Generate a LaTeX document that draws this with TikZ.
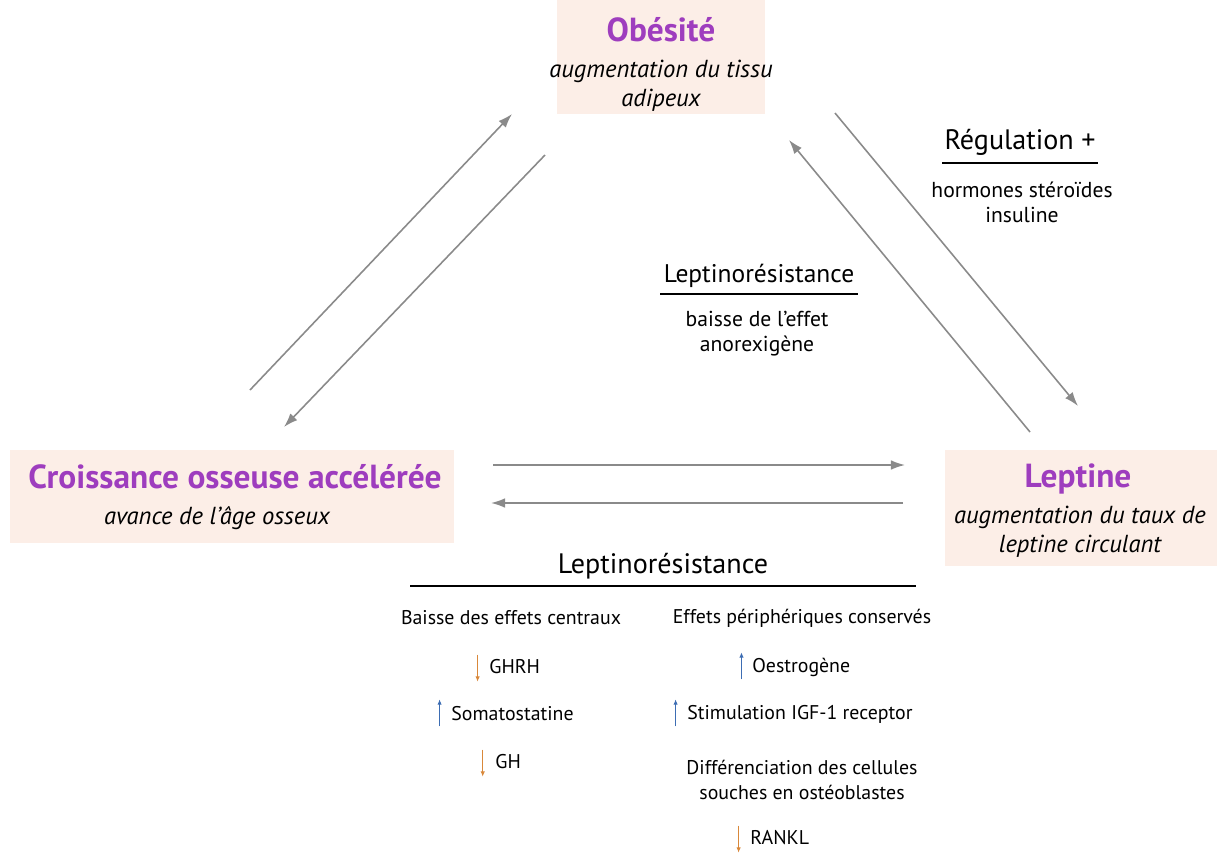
\documentclass[tikz,border=0pt]{standalone}
\usepackage{fontspec}
\setmainfont{PT Sans}
\usetikzlibrary{arrows.meta}
\definecolor{titre}{HTML}{9E3DBE}
\definecolor{fond}{HTML}{FCEEE7}
\definecolor{fleche}{HTML}{8A8A8A}
\definecolor{hausse}{HTML}{3D6DB3}
\definecolor{baisse}{HTML}{D9883A}
\tikzset{
  boite/.style={fill=fond, inner sep=0pt},
  titre/.style={text=titre, font=\fontsize{19}{22}\selectfont\bfseries},
  sous/.style={font=\fontsize{14}{16.4}\selectfont\itshape, align=center},
  texte/.style={font=\fontsize{12.3}{14.2}\selectfont, align=center},
  petit/.style={font=\fontsize{11.3}{14.2}\selectfont, align=center},
  entete/.style={font=\fontsize{16}{18}\selectfont},
  item/.style={font=\fontsize{11.3}{13}\selectfont, anchor=west, inner sep=0pt},
  fl/.style={draw=fleche, line width=0.9pt, -{Latex[length=8pt,width=5.5pt]}},
  haut/.style={draw=hausse, line width=0.6pt, -{Latex[length=3pt,width=2.5pt]}},
  bas/.style={draw=baisse, line width=0.6pt, -{Latex[length=3pt,width=2.5pt]}},
}
\begin{document}
\begin{tikzpicture}[x=0.02cm,y=-0.02cm]
\useasboundingbox (0,0) rectangle (1218,853);

% boites
\node[boite, minimum width=4.16cm, minimum height=2.3cm] (obes) at (661,57) {};
\node[boite, minimum width=8.9cm, minimum height=1.86cm] (crois) at (232,496) {};
\node[boite, minimum width=5.46cm, minimum height=2.34cm] (lept) at (1081,508) {};

\node[titre] (obesT) at (661,30) {Obésité};
\node[sous] (obesS) at (661,86) {augmentation du tissu\\adipeux};
\node[titre] (croisT) at (235,477) {Croissance osseuse accélérée};
\node[sous] (croisS) at (217,518) {avance de l’âge osseux};
\node[titre] (leptT) at (1078,479) {Leptine};
\node[sous] (leptS) at (1080,532) {augmentation du taux de\\leptine circulant};

% fleches du triangle
\coordinate (a1) at (250,390); \coordinate (b1) at (512,114);
\coordinate (a2) at (545,155); \coordinate (b2) at (284,427);
\coordinate (a3) at (835,113); \coordinate (b3) at (1078,406);
\coordinate (a4) at (1030,432); \coordinate (b4) at (789,140);
\coordinate (a5) at (493,465); \coordinate (b5) at (905,465);
\coordinate (a6) at (903,503); \coordinate (b6) at (491,503);
\draw[fl] (a1) -- (b1);
\draw[fl] (a2) -- (b2);
\draw[fl] (a3) -- (b3);
\draw[fl] (a4) -- (b4);
\draw[fl] (a5) -- (b5);
\draw[fl] (a6) -- (b6);

% regulation
\node[entete] (reg) at (1020,142) {Régulation +};
\coordinate (r1) at (942,163); \coordinate (r2) at (1098,163);
\draw[line width=0.6pt] (r1) -- (r2);
\node[texte] (regT) at (1022,202) {hormones stéroïdes\\insuline};

% leptinoresistance (milieu)
\node[entete, font=\fontsize{14.5}{17}\selectfont] (lr) at (759,276) {Leptinorésistance};
\coordinate (l1) at (660,294); \coordinate (l2) at (858,294);
\draw[line width=0.6pt] (l1) -- (l2);
\node[texte] (lrT) at (757,334) {baisse de l’effet\\anorexigène};

% leptinoresistance (bas)
\node[entete] (lrb) at (663,566) {Leptinorésistance};
\coordinate (m1) at (410,586); \coordinate (m2) at (916,586);
\draw[line width=0.6pt] (m1) -- (m2);
\node[petit] (centr) at (511,618) {Baisse des effets centraux};
\node[petit] (perif) at (802,618) {Effets périphériques conservés};

\node[item] (ghrh) at (489,667) {GHRH};
\node[item] (soma) at (451,714) {Somatostatine};
\node[item] (gh) at (495,762) {GH};
\node[item] (oest) at (752,667) {Oestrogène};
\node[item] (igf) at (687,714) {Stimulation IGF-1 receptor};
\node[petit] (diff) at (802,780) {Différenciation des cellules\\souches en ostéoblastes};
\node[item] (rankl) at (750,838) {RANKL};

\draw[bas] ([xshift=-6.5pt,yshift=7pt]ghrh.west) -- ++(0,27);
\draw[haut] ([xshift=-6.5pt,yshift=-7pt]soma.west) -- ++(0,-27);
\draw[bas] ([xshift=-7pt,yshift=7pt]gh.west) -- ++(0,27);
\draw[haut] ([xshift=-6pt,yshift=-7pt]oest.west) -- ++(0,-27);
\draw[haut] ([xshift=-6.5pt,yshift=-7pt]igf.west) -- ++(0,-27);
\draw[bas] ([xshift=-6.5pt,yshift=7pt]rankl.west) -- ++(0,27);
\end{tikzpicture}
\end{document}
